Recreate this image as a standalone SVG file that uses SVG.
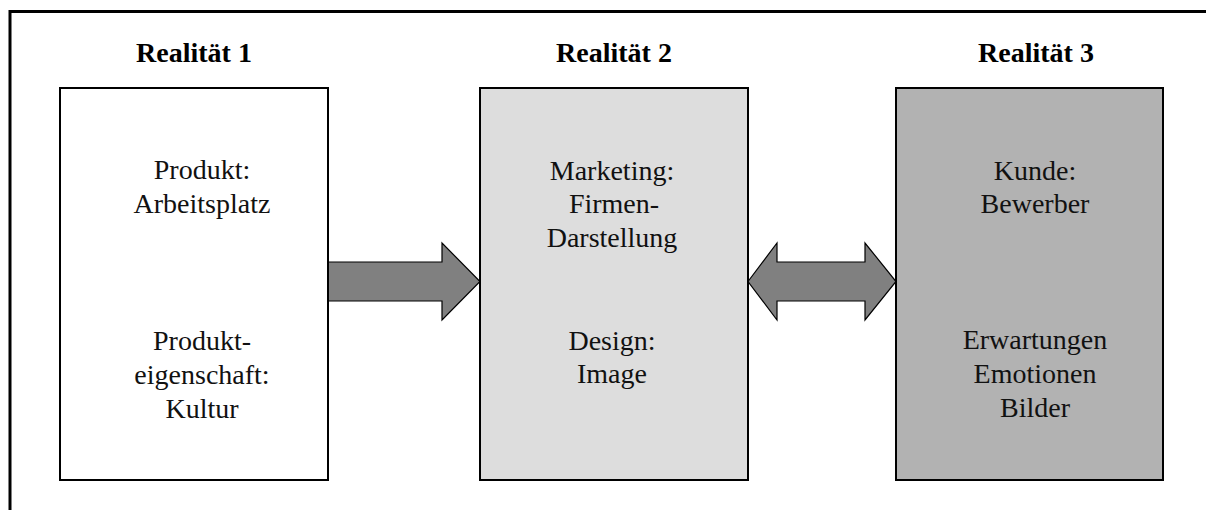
<svg xmlns="http://www.w3.org/2000/svg" width="1206" height="510" viewBox="0 0 1206 510">
<style>
.title{font-family:"Liberation Serif","Times New Roman",serif;font-size:28px;font-weight:bold;text-anchor:middle;fill:#000}
.lbl{font-family:"Liberation Serif","Times New Roman",serif;font-size:28px;text-anchor:middle;fill:#111}
.box{stroke:#000;stroke-width:2}
.arrow{fill:#808080;stroke:#000;stroke-width:1.2;stroke-linejoin:miter}
</style>
<rect width="1206" height="510" fill="#fff"/>
<path d="M10,510 V11.5 H1206" fill="none" stroke="#000" stroke-width="3"/>
<g id="title1"><text class="title" x="194" y="62">Realität 1</text></g>
<g id="title2"><text class="title" x="614" y="62">Realität 2</text></g>
<g id="title3"><text class="title" x="1036" y="62">Realität 3</text></g>
<g id="connectors">
<path class="arrow" d="M328,262 H442 V243 L480,281.5 L442,320 V301 H328 Z"/>
<path class="arrow" d="M748,281.5 L777,243 V262 H865 V243 L896,281.5 L865,320 V301 H777 V320 Z"/>
</g>
<g id="node1">
<rect class="box" x="60" y="88" width="268" height="392" fill="#fff"/>
<text class="lbl" x="202" y="179">Produkt:</text>
<text class="lbl" x="202" y="213">Arbeitsplatz</text>
<text class="lbl" x="202" y="350">Produkt-</text>
<text class="lbl" x="202" y="384">eigenschaft:</text>
<text class="lbl" x="202" y="418">Kultur</text>
</g>
<g id="node2">
<rect class="box" x="480" y="88" width="268" height="392" fill="#dddddd"/>
<text class="lbl" x="612" y="180">Marketing:</text>
<text class="lbl" x="614" y="213">Firmen-</text>
<text class="lbl" x="612" y="247">Darstellung</text>
<text class="lbl" x="612" y="350">Design:</text>
<text class="lbl" x="612" y="383">Image</text>
</g>
<g id="node3">
<rect class="box" x="896" y="88" width="267" height="392" fill="#b2b2b2"/>
<text class="lbl" x="1035" y="180">Kunde:</text>
<text class="lbl" x="1035" y="213">Bewerber</text>
<text class="lbl" x="1035" y="349">Erwartungen</text>
<text class="lbl" x="1035" y="383">Emotionen</text>
<text class="lbl" x="1035" y="417">Bilder</text>
</g>
</svg>
